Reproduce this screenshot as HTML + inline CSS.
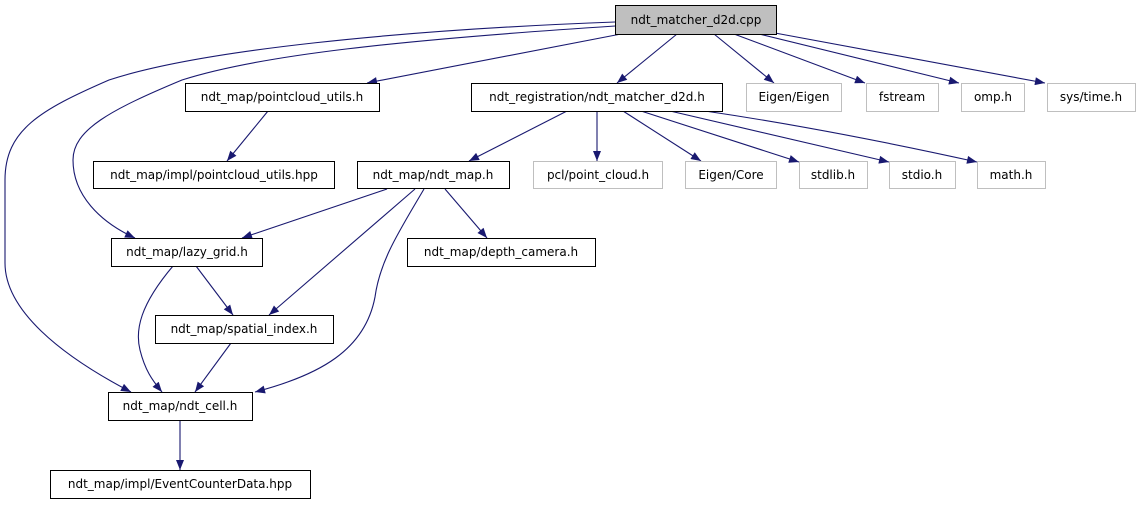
<!DOCTYPE html>
<html><head><meta charset="utf-8"><style>
body{margin:0;background:#fff}
svg text{font-family:"DejaVu Sans","Liberation Sans",sans-serif;font-size:12px;text-anchor:middle;fill:#000}
</style></head><body>
<svg width="1141" height="504" viewBox="0 0 1141 504" xmlns="http://www.w3.org/2000/svg">
<defs><marker id="a" viewBox="0 0 10 8" refX="10" refY="4" markerWidth="11" markerHeight="8" markerUnits="userSpaceOnUse" orient="auto"><path d="M0,0L10,4L0,8z" fill="#191970"/></marker></defs>
<g fill="none" stroke="#191970" stroke-width="1.1" marker-end="url(#a)">
<path d="M615,22 C400,30 200,50 109,80 C40,110 5,130 5,180 L5,263 C5,310 60,355 131,392"/>
<path d="M615,26 C400,40 260,55 182,80 C110,110 73,130 73,160 C73,195 100,222 135,238"/>
<path d="M621,34 L367,83"/>
<path d="M677,34 L617,83"/>
<path d="M714,34 L774,83"/>
<path d="M734,34 L865,83"/>
<path d="M759,34 L959,83"/>
<path d="M775,33 L1045,83"/>
<path d="M268,111 L227,161"/>
<path d="M567,111 L469,161"/>
<path d="M597,111 L597,161"/>
<path d="M623,111 L701,161"/>
<path d="M641,111 L799,162"/>
<path d="M670,111 L889,162"/>
<path d="M705,111 C800,125 900,145 977,162"/>
<path d="M387,189 L242,238"/>
<path d="M415,189 L269,315"/>
<path d="M424,189 C400,230 380,260 375,297 C365,350 320,375 255,392"/>
<path d="M445,189 L487,238"/>
<path d="M196,266 L233,315"/>
<path d="M173,266 C140,305 135,330 140,350 C145,370 152,380 162,392"/>
<path d="M231,343 L195,392"/>
<path d="M180,420 L180,470"/>
</g>
<g stroke-width="1">
<rect x="615.5" y="5.5" width="161" height="29" fill="#bfbfbf" stroke="#000"/>
<rect x="185.5" y="83.5" width="194" height="28" fill="#fff" stroke="#000"/>
<rect x="471.5" y="83.5" width="251" height="28" fill="#fff" stroke="#000"/>
<rect x="746.5" y="83.5" width="95" height="28" fill="#fff" stroke="#bfbfbf"/>
<rect x="866.5" y="83.5" width="72" height="28" fill="#fff" stroke="#bfbfbf"/>
<rect x="961.5" y="83.5" width="63" height="28" fill="#fff" stroke="#bfbfbf"/>
<rect x="1047.5" y="83.5" width="88" height="28" fill="#fff" stroke="#bfbfbf"/>
<rect x="93.5" y="161.5" width="241" height="27" fill="#fff" stroke="#000"/>
<rect x="357.5" y="161.5" width="152" height="27" fill="#fff" stroke="#000"/>
<rect x="533.5" y="161.5" width="129" height="27" fill="#fff" stroke="#bfbfbf"/>
<rect x="685.5" y="161.5" width="91" height="27" fill="#fff" stroke="#bfbfbf"/>
<rect x="799.5" y="161.5" width="68" height="27" fill="#fff" stroke="#bfbfbf"/>
<rect x="889.5" y="161.5" width="66" height="27" fill="#fff" stroke="#bfbfbf"/>
<rect x="977.5" y="161.5" width="68" height="27" fill="#fff" stroke="#bfbfbf"/>
<rect x="111.5" y="238.5" width="151" height="28" fill="#fff" stroke="#000"/>
<rect x="407.5" y="238.5" width="188" height="28" fill="#fff" stroke="#000"/>
<rect x="155.5" y="315.5" width="178" height="28" fill="#fff" stroke="#000"/>
<rect x="108.5" y="392.5" width="144" height="28" fill="#fff" stroke="#000"/>
<rect x="50.5" y="470.5" width="260" height="28" fill="#fff" stroke="#000"/>
</g>
<text x="696" y="24">ndt_matcher_d2d.cpp</text>
<text x="282" y="101">ndt_map/pointcloud_utils.h</text>
<text x="597" y="101">ndt_registration/ndt_matcher_d2d.h</text>
<text x="794" y="101">Eigen/Eigen</text>
<text x="902" y="101">fstream</text>
<text x="993" y="101">omp.h</text>
<text x="1091" y="101">sys/time.h</text>
<text x="214" y="179">ndt_map/impl/pointcloud_utils.hpp</text>
<text x="433" y="179">ndt_map/ndt_map.h</text>
<text x="598" y="179">pcl/point_cloud.h</text>
<text x="731" y="179">Eigen/Core</text>
<text x="833" y="179">stdlib.h</text>
<text x="922" y="179">stdio.h</text>
<text x="1011" y="179">math.h</text>
<text x="187" y="256">ndt_map/lazy_grid.h</text>
<text x="501" y="256">ndt_map/depth_camera.h</text>
<text x="244" y="333">ndt_map/spatial_index.h</text>
<text x="180" y="410">ndt_map/ndt_cell.h</text>
<text x="180" y="488">ndt_map/impl/EventCounterData.hpp</text>
</svg>
</body></html>
